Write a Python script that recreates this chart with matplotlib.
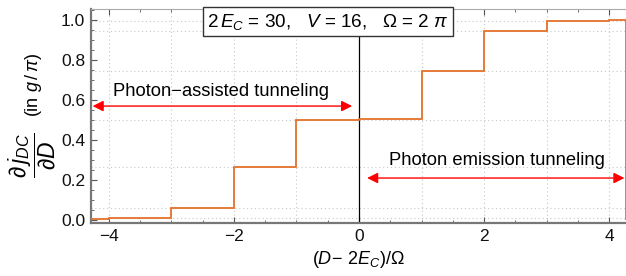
import numpy as np
import matplotlib
matplotlib.use("Agg")
import matplotlib.pyplot as plt
from matplotlib.ticker import MultipleLocator, FormatStrFormatter

plt.rcParams['font.family'] = ['Liberation Sans', 'DejaVu Sans']
plt.rcParams['mathtext.fontset'] = 'custom'
plt.rcParams['mathtext.rm'] = 'Liberation Sans'
plt.rcParams['mathtext.it'] = 'Liberation Sans:italic'
plt.rcParams['mathtext.sf'] = 'Liberation Sans'
plt.rcParams['axes.unicode_minus'] = True

# step edges and the value held on each interval
edges = [-4.29, -4, -3, -2, -1, 0, 1, 2, 3, 4, 4.27]
levels = [0.004, 0.008, 0.062, 0.265, 0.500, 0.505, 0.743, 0.945, 0.997, 1.001]
grid_y = [0.008, 0.062, 0.265, 0.500, 0.743, 0.945, 0.997]
grid_x = [-4, -3, -2, -1, 1, 2, 3, 4]

line_color = '#e4722a'

fig = plt.figure(figsize=(6.26, 2.76), dpi=100)
ax = fig.add_axes([0.145, 0.192, 0.855, 0.775])

for gx in grid_x:
    ax.axvline(gx, color='#c8c8c8', lw=0.8, ls=(0, (1, 2.5)), zorder=0)
for gy in grid_y:
    ax.axhline(gy, color='#c8c8c8', lw=0.8, ls=(0, (1, 2.5)), zorder=0)

ax.stairs(levels, edges, color=line_color, lw=1.3, zorder=3)
ax.axvline(0, color='black', lw=0.9, zorder=2)

ax.set_xlim(-4.29, 4.27)
ax.set_ylim(-0.015, 1.055)

ax.xaxis.set_major_locator(MultipleLocator(2))
ax.xaxis.set_minor_locator(MultipleLocator(0.5))
ax.yaxis.set_major_locator(MultipleLocator(0.2))
ax.yaxis.set_minor_locator(MultipleLocator(0.05))
ax.yaxis.set_major_formatter(FormatStrFormatter('%.1f'))
ax.tick_params(which='both', direction='in', top=True, right=False,
               labelsize=12.5, colors='#555555', labelcolor='#111111', pad=4)
ax.tick_params(which='major', length=4, width=0.8)
ax.tick_params(which='minor', length=2.5, width=0.6)

for s in ['left', 'bottom']:
    ax.spines[s].set_color('#777777')
    ax.spines[s].set_linewidth(1.6)
ax.spines['top'].set_color('#aaaaaa')
ax.spines['top'].set_linewidth(0.8)
ax.spines['right'].set_visible(False)

ax.set_xlabel(r'$(D\!-\,2E_C)/\Omega$', fontsize=13, labelpad=4)

# y label: a large fraction plus the unit note above it
fig.text(0.051, 0.438, r'$\dfrac{\partial\, j_{DC}}{\partial D}$', rotation=90,
         ha='center', va='center', fontsize=16.5)
fig.text(0.053, 0.692, r'(in $g\,/\,\pi$)', rotation=90,
         ha='center', va='center', fontsize=13)

ax.text(-0.5, 1.043, r'$2\,E_C$ = 30,   $V$ = 16,   $\Omega$ = 2 $\pi$',
        ha='center', va='top', fontsize=13.6, zorder=5,
        bbox=dict(boxstyle='square,pad=0.22', fc='white', ec='#333333', lw=1))

arrow = dict(arrowstyle='<|-|>', color='red', lw=1.0, mutation_scale=16,
             shrinkA=0, shrinkB=0)
ax.annotate('', xy=(-4.26, 0.57), xytext=(-0.11, 0.57), arrowprops=arrow, zorder=4)
ax.text(-2.2, 0.598, 'Photon\u2212assisted tunneling', ha='center', va='bottom',
        fontsize=13.2, zorder=4)
ax.annotate('', xy=(0.13, 0.21), xytext=(4.245, 0.21), arrowprops=arrow, zorder=4)
ax.text(2.21, 0.255, 'Photon emission tunneling', ha='center', va='bottom',
        fontsize=13.2, zorder=4)

fig.savefig('out.png', dpi=100)
